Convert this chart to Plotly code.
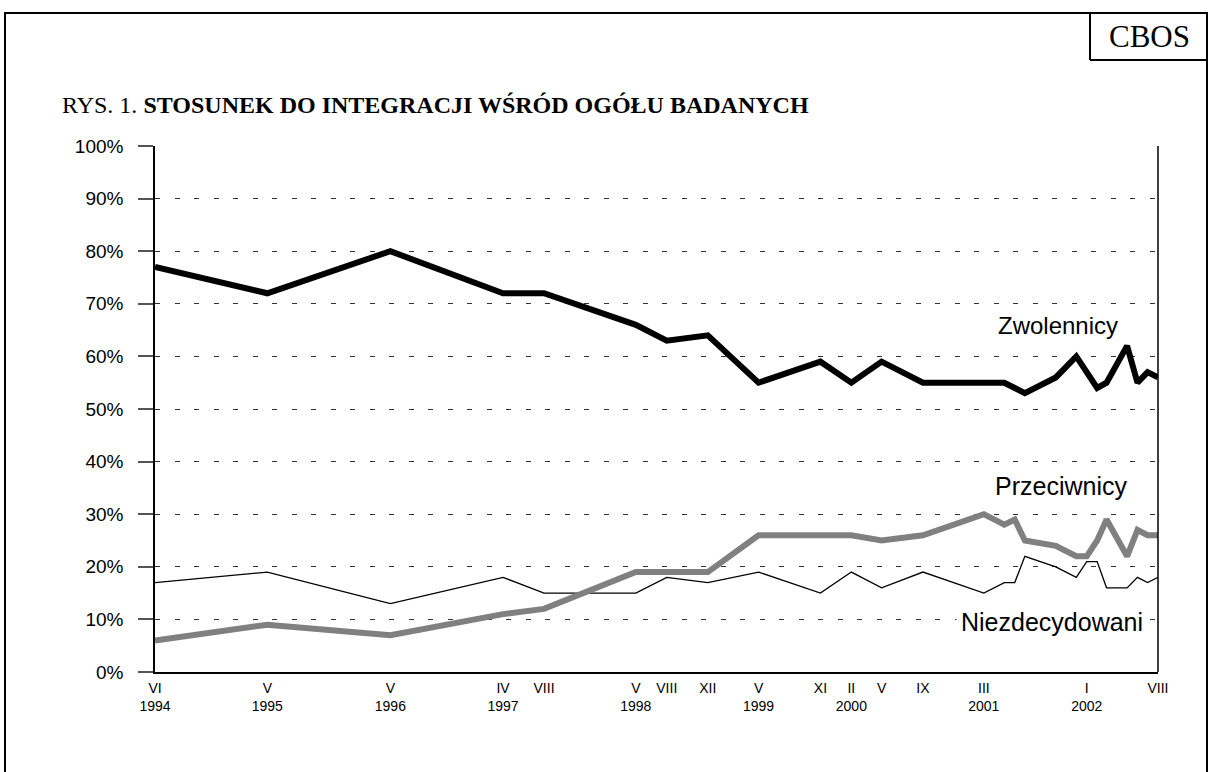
import plotly.graph_objects as go

# Survey dates (month of survey)
dates = ["1994-06-01", "1995-05-01", "1996-05-01", "1997-04-01", "1997-08-01",
         "1998-05-01", "1998-08-01", "1998-12-01", "1999-05-01", "1999-11-01",
         "2000-02-01", "2000-05-01", "2000-09-01", "2001-03-01", "2001-05-01",
         "2001-06-01", "2001-07-01", "2001-10-01", "2001-12-01", "2002-01-01",
         "2002-02-01", "2002-03-01", "2002-05-01", "2002-06-01", "2002-07-01",
         "2002-08-01"]

zwolennicy = [77, 72, 80, 72, 72, 66, 63, 64, 55, 59, 55, 59, 55, 55, 55, 54, 53,
              56, 60, 57, 54, 55, 62, 55, 57, 56]
przeciwnicy = [6, 9, 7, 11, 12, 19, 19, 19, 26, 26, 26, 25, 26, 30, 28, 29, 25,
               24, 22, 22, 25, 29, 22, 27, 26, 26]
niezdecydowani = [17, 19, 13, 18, 15, 15, 18, 17, 19, 15, 19, 16, 19, 15, 17, 17,
                  22, 20, 18, 21, 21, 16, 16, 18, 17, 18]

tick_dates = ["1994-06-01", "1995-05-01", "1996-05-01", "1997-04-01", "1997-08-01",
              "1998-05-01", "1998-08-01", "1998-12-01", "1999-05-01", "1999-11-01",
              "2000-02-01", "2000-05-01", "2000-09-01", "2001-03-01", "2002-01-01",
              "2002-08-01"]
tick_labels = ["VI<br>1994", "V<br>1995", "V<br>1996", "IV<br>1997", "VIII",
               "V<br>1998", "VIII", "XII", "V<br>1999", "XI",
               "II<br>2000", "V", "IX", "III<br>2001", "I<br>2002",
               "VIII"]

y_ticks = [0, 10, 20, 30, 40, 50, 60, 70, 80, 90, 100]
y_tick_labels = [f"{v}%" for v in y_ticks]

W, H = 1208, 772
L, R, T, B = 155, 50, 146, 100
pw, ph = W - L - R, H - T - B

def px_x(x):
    return (x - L) / pw

def px_y(y):
    return 1 - (y - T) / ph

fig = go.Figure()
fig.add_trace(go.Scatter(x=dates, y=niezdecydowani, mode="lines",
                         line=dict(color="black", width=1.3), name="Niezdecydowani"))
fig.add_trace(go.Scatter(x=dates, y=przeciwnicy, mode="lines",
                         line=dict(color="#808080", width=6), name="Przeciwnicy"))
fig.add_trace(go.Scatter(x=dates, y=zwolennicy, mode="lines",
                         line=dict(color="black", width=6), name="Zwolennicy"))

fig.update_layout(
    width=W, height=H,
    margin=dict(l=L, r=R, t=T, b=B, pad=0),
    paper_bgcolor="white", plot_bgcolor="white",
    showlegend=False,
    font=dict(family="Liberation Sans, Arial, sans-serif", color="black"),
    xaxis=dict(type="date", range=["1994-06-01", "2002-08-01"],
               tickmode="array", tickvals=tick_dates, ticktext=tick_labels,
               showgrid=False, zeroline=False, showline=True, linecolor="black",
               linewidth=1.5, ticks="", tickfont=dict(size=14), ticklabelstandoff=2),
    yaxis=dict(range=[0, 100], tickmode="array", tickvals=y_ticks, ticktext=y_tick_labels,
               showgrid=True, gridcolor="#333", griddash="5px,14.5px", gridwidth=1.2,
               zeroline=False, showline=True, linecolor="black", linewidth=1.5,
               ticks="outside", ticklen=15, tickcolor="#555", tickwidth=1.5,
               tickfont=dict(size=19), ticklabelstandoff=11),
)

# right border of plot area
fig.add_shape(type="line", xref="x domain", yref="y domain", x0=1, x1=1, y0=0, y1=1,
              line=dict(color="black", width=1.5))

# outer frame
fig.add_shape(type="rect", xref="paper", yref="paper",
              x0=px_x(5), x1=px_x(1207), y0=px_y(790), y1=px_y(13),
              line=dict(color="black", width=2))
# CBOS box
fig.add_shape(type="line", xref="paper", yref="paper",
              x0=px_x(1090), x1=px_x(1090), y0=px_y(60), y1=px_y(13),
              line=dict(color="black", width=2))
fig.add_shape(type="line", xref="paper", yref="paper",
              x0=px_x(1090), x1=px_x(1207), y0=px_y(60), y1=px_y(60),
              line=dict(color="black", width=2))

fig.add_annotation(text="CBOS", xref="paper", yref="paper", x=px_x(1149), y=px_y(37),
                   showarrow=False, xanchor="center", yanchor="middle",
                   font=dict(family="Liberation Serif, Times New Roman, serif", size=31))
fig.add_annotation(text="RYS. 1. <b>STOSUNEK DO INTEGRACJI WŚRÓD OGÓŁU BADANYCH</b>",
                   xref="paper", yref="paper", x=px_x(60), y=px_y(105),
                   showarrow=False, xanchor="left", yanchor="middle",
                   font=dict(family="Liberation Serif, Times New Roman, serif", size=24))

fig.add_annotation(text="Zwolennicy", xref="paper", yref="y", x=px_x(1058), y=65.8,
                   showarrow=False, xanchor="center", yanchor="middle",
                   font=dict(size=24))
fig.add_annotation(text="Przeciwnicy", xref="paper", yref="y", x=px_x(1061), y=35.4,
                   showarrow=False, xanchor="center", yanchor="middle",
                   font=dict(size=25))
fig.add_annotation(text="Niezdecydowani", xref="paper", yref="y", x=px_x(1052), y=9.6,
                   showarrow=False, xanchor="center", yanchor="middle",
                   bgcolor="white", borderpad=4,
                   font=dict(size=25))

fig.write_html("out.html", config={"displayModeBar": False},
               post_script="document.body.style.margin='0';")
